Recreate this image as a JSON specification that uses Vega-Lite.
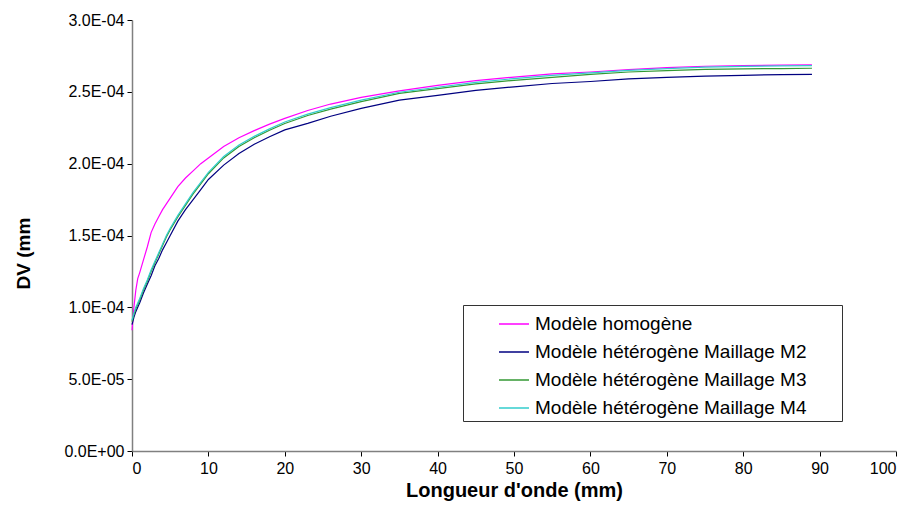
{
  "$schema": "https://vega.github.io/schema/vega-lite/v6.json",
  "width": 764,
  "height": 431,
  "autosize": {"type": "none"},
  "padding": {"left": 132, "top": 20, "right": 19, "bottom": 68},
  "background": "white",
  "config": {"view": {"stroke": null}, "font": "Liberation Sans"},
  "data": {"values": [
    {"x": 0, "h": 0.84e-4, "m2": 0.88e-4, "m3": 0.90e-4, "m4": 0.91e-4},
    {"x": 0.25, "h": 1.00e-4, "m2": 0.93e-4, "m3": 0.95e-4, "m4": 0.96e-4},
    {"x": 0.5, "h": 1.12e-4, "m2": 0.97e-4, "m3": 0.99e-4, "m4": 1.00e-4},
    {"x": 0.75, "h": 1.20e-4, "m2": 1.00e-4, "m3": 1.02e-4, "m4": 1.03e-4},
    {"x": 1, "h": 1.24e-4, "m2": 1.03e-4, "m3": 1.05e-4, "m4": 1.06e-4},
    {"x": 1.5, "h": 1.33e-4, "m2": 1.10e-4, "m3": 1.12e-4, "m4": 1.13e-4},
    {"x": 2, "h": 1.42e-4, "m2": 1.16e-4, "m3": 1.18e-4, "m4": 1.19e-4},
    {"x": 2.5, "h": 1.52e-4, "m2": 1.22e-4, "m3": 1.25e-4, "m4": 1.26e-4},
    {"x": 3, "h": 1.58e-4, "m2": 1.29e-4, "m3": 1.31e-4, "m4": 1.32e-4},
    {"x": 3.5, "h": 1.63e-4, "m2": 1.34e-4, "m3": 1.37e-4, "m4": 1.38e-4},
    {"x": 4, "h": 1.68e-4, "m2": 1.40e-4, "m3": 1.43e-4, "m4": 1.44e-4},
    {"x": 4.5, "h": 1.72e-4, "m2": 1.45e-4, "m3": 1.49e-4, "m4": 1.50e-4},
    {"x": 5, "h": 1.76e-4, "m2": 1.50e-4, "m3": 1.54e-4, "m4": 1.55e-4},
    {"x": 6, "h": 1.84e-4, "m2": 1.60e-4, "m3": 1.63e-4, "m4": 1.64e-4},
    {"x": 7, "h": 1.90e-4, "m2": 1.68e-4, "m3": 1.71e-4, "m4": 1.72e-4},
    {"x": 8, "h": 1.95e-4, "m2": 1.75e-4, "m3": 1.79e-4, "m4": 1.80e-4},
    {"x": 9, "h": 2.00e-4, "m2": 1.82e-4, "m3": 1.86e-4, "m4": 1.87e-4},
    {"x": 10, "h": 2.04e-4, "m2": 1.89e-4, "m3": 1.93e-4, "m4": 1.94e-4},
    {"x": 12, "h": 2.12e-4, "m2": 1.99e-4, "m3": 2.04e-4, "m4": 2.05e-4},
    {"x": 14, "h": 2.18e-4, "m2": 2.07e-4, "m3": 2.12e-4, "m4": 2.13e-4},
    {"x": 16, "h": 2.23e-4, "m2": 2.135e-4, "m3": 2.18e-4, "m4": 2.19e-4},
    {"x": 18, "h": 2.275e-4, "m2": 2.187e-4, "m3": 2.233e-4, "m4": 2.242e-4},
    {"x": 20, "h": 2.315e-4, "m2": 2.235e-4, "m3": 2.28e-4, "m4": 2.29e-4},
    {"x": 23, "h": 2.37e-4, "m2": 2.28e-4, "m3": 2.335e-4, "m4": 2.345e-4},
    {"x": 26, "h": 2.415e-4, "m2": 2.33e-4, "m3": 2.38e-4, "m4": 2.39e-4},
    {"x": 30, "h": 2.462e-4, "m2": 2.385e-4, "m3": 2.432e-4, "m4": 2.442e-4},
    {"x": 35, "h": 2.507e-4, "m2": 2.442e-4, "m3": 2.489e-4, "m4": 2.497e-4},
    {"x": 40, "h": 2.545e-4, "m2": 2.475e-4, "m3": 2.522e-4, "m4": 2.532e-4},
    {"x": 45, "h": 2.578e-4, "m2": 2.51e-4, "m3": 2.555e-4, "m4": 2.566e-4},
    {"x": 50, "h": 2.603e-4, "m2": 2.535e-4, "m3": 2.58e-4, "m4": 2.592e-4},
    {"x": 55, "h": 2.625e-4, "m2": 2.558e-4, "m3": 2.60e-4, "m4": 2.614e-4},
    {"x": 60, "h": 2.638e-4, "m2": 2.572e-4, "m3": 2.622e-4, "m4": 2.632e-4},
    {"x": 65, "h": 2.655e-4, "m2": 2.59e-4, "m3": 2.638e-4, "m4": 2.65e-4},
    {"x": 70, "h": 2.668e-4, "m2": 2.60e-4, "m3": 2.648e-4, "m4": 2.662e-4},
    {"x": 75, "h": 2.678e-4, "m2": 2.61e-4, "m3": 2.656e-4, "m4": 2.672e-4},
    {"x": 80, "h": 2.683e-4, "m2": 2.615e-4, "m3": 2.66e-4, "m4": 2.677e-4},
    {"x": 85, "h": 2.686e-4, "m2": 2.62e-4, "m3": 2.662e-4, "m4": 2.68e-4},
    {"x": 89, "h": 2.687e-4, "m2": 2.622e-4, "m3": 2.664e-4, "m4": 2.682e-4}
  ]},
  "transform": [
    {"fold": ["h", "m2", "m3", "m4"], "as": ["key", "dv"]},
    {"lookup": "key", "from": {"data": {"values": [
      {"key": "h", "serie": "Modèle homogène"},
      {"key": "m2", "serie": "Modèle hétérogène Maillage M2"},
      {"key": "m3", "serie": "Modèle hétérogène Maillage M3"},
      {"key": "m4", "serie": "Modèle hétérogène Maillage M4"}
    ]}, "key": "key", "fields": ["serie"]}}
  ],
  "mark": {"type": "line", "strokeWidth": 1.2},
  "encoding": {
    "x": {
      "field": "x", "type": "quantitative",
      "scale": {"domain": [0, 100], "nice": false},
      "axis": {
        "title": "Longueur d'onde (mm)",
        "values": [0, 10, 20, 30, 40, 50, 60, 70, 80, 90, 100],
        "grid": false,
        "domainColor": "#808080", "domainWidth": 1.5,
        "tickColor": "#000000", "tickSize": 5, "tickWidth": 1,
        "labelFontSize": 16, "labelColor": "#000000", "labelPadding": 4,
        "titleFontSize": 20, "titleFontWeight": "bold", "titleColor": "#000000", "titlePadding": 4
      }
    },
    "y": {
      "field": "dv", "type": "quantitative",
      "scale": {"domain": [0, 0.0003], "nice": false},
      "axis": {
        "title": "DV (mm",
        "titleY": 233,
        "values": [0, 0.00005, 0.0001, 0.00015, 0.0002, 0.00025, 0.0003],
        "labelExpr": "datum.value == 0 ? '0.0E+00' : format(datum.value / pow(10, floor(log(datum.value) / LN10 + 1e-9)), '.1f') + 'E-0' + (-floor(log(datum.value) / LN10 + 1e-9))",
        "grid": false,
        "domainColor": "#808080", "domainWidth": 1.5,
        "tickColor": "#000000", "tickSize": 5, "tickWidth": 1,
        "labelFontSize": 16, "labelColor": "#000000", "labelPadding": 3,
        "titleFontSize": 19, "titleFontWeight": "bold", "titleColor": "#000000", "titlePadding": 30
      }
    },
    "color": {
      "field": "serie", "type": "nominal",
      "scale": {
        "domain": ["Modèle homogène", "Modèle hétérogène Maillage M2", "Modèle hétérogène Maillage M3", "Modèle hétérogène Maillage M4"],
        "range": ["#FF00FF", "#000080", "#339933", "#33CCCC"]
      },
      "legend": {
        "orient": "none", "legendX": 331, "legendY": 285,
        "title": "\u00a0", "titleOrient": "right", "titlePadding": 33, "titleFontSize": 8,
        "strokeColor": "#333333", "fillColor": "white",
        "padding": 3,
        "symbolType": "stroke", "symbolSize": 900, "symbolStrokeWidth": 1.5,
        "symbolOffset": 32,
        "labelFontSize": 19, "labelColor": "#000000", "labelOffset": 5, "labelLimit": 0,
        "rowPadding": 2
      }
    }
  }
}
